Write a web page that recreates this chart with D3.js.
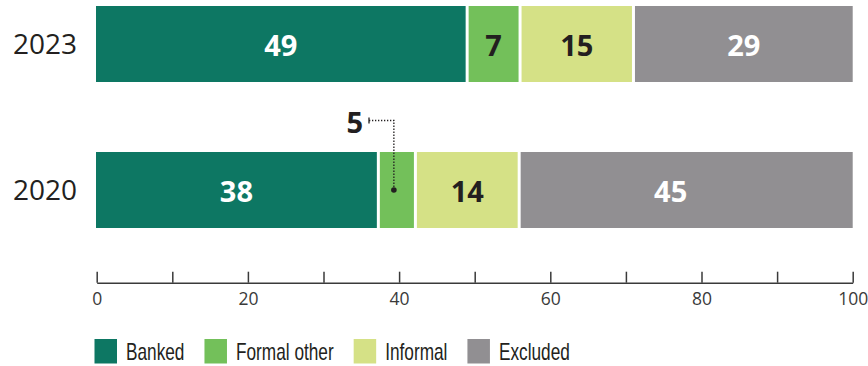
<!DOCTYPE html>
<html>
<head>
<meta charset="utf-8">
<script src="https://cdn.jsdelivr.net/npm/d3@7/dist/d3.min.js"></script>
<style>
  html, body { margin: 0; padding: 0; background: #ffffff; }
  svg { display: block; }
</style>
</head>
<body>
<svg id="chart" width="868" height="366"></svg>
<script>
// Share of adults by access to financial services (%)
const years = ["2023", "2020"];
const categories = ["Banked", "Formal other", "Informal", "Excluded"];
const banked = [49, 38];
const formalOther = [7, 5];
const informal = [15, 14];
const excluded = [29, 45];
const tickValues = [0, 10, 20, 30, 40, 50, 60, 70, 80, 90, 100];
const tickLabels = ["0", "", "20", "", "40", "", "60", "", "80", "", "100"];

const colors = ["#0d7763", "#73c05a", "#d5e186", "#918f92"];
const labelColors = ["#ffffff", "#231f20", "#231f20", "#ffffff"];
const ink = "#231f20";

const svg = d3.select("#chart");

const x = d3.scaleLinear().domain([0, 100]).range([96.7, 852.7]);
const y = d3.scaleBand().domain(years).range([6, 228]).paddingInner(70 / 146).paddingOuter(0);
const color = d3.scaleOrdinal().domain(categories).range(colors);

// Build rows; each row is scaled to its own total so segments fill 0–100
const series = [banked, formalOther, informal, excluded];
const rows = years.map((yr, i) => {
  const vals = series.map(s => s[i]);
  const total = d3.sum(vals);
  let acc = 0;
  return vals.map((v, j) => {
    const start = acc / total * 100;
    acc += v;
    const end = acc / total * 100;
    return { year: yr, key: categories[j], idx: j, value: v, start, end, last: j === vals.length - 1 };
  });
});
const segs = rows.flat();

const gap = 1.5;
const segX0 = d => d.start === 0 ? x(0) - 0.7 : x(d.start) + gap;
const segX1 = d => d.last ? x(100) : x(d.end) - gap;

const bars = svg.append("g");
bars.selectAll("rect")
  .data(segs)
  .join("rect")
  .attr("x", segX0)
  .attr("y", d => y(d.year))
  .attr("width", d => segX1(d) - segX0(d))
  .attr("height", y.bandwidth())
  .attr("fill", d => color(d.key));

// Value labels inside the segments (the small 2020 formal share is called out above)
const nudge = d => (d.year === "2020" && d.key === "Excluded") ? -16 : 0;
bars.selectAll("text")
  .data(segs.filter(d => !(d.year === "2020" && d.key === "Formal other")))
  .join("text")
  .attr("x", d => (segX0(d) + segX1(d)) / 2 + nudge(d))
  .attr("y", d => y(d.year) + y.bandwidth() / 2 + 11.5)
  .attr("text-anchor", "middle")
  .attr("font-family", "'Open Sans', 'Noto Sans', sans-serif")
  .attr("font-weight", 700)
  .attr("font-size", 29)
  .attr("fill", d => labelColors[d.idx])
  .text(d => d.value);

// Year labels
svg.append("g").selectAll("text")
  .data(years)
  .join("text")
  .attr("x", 77)
  .attr("y", d => y(d) + y.bandwidth() / 2 + 9.5)
  .attr("text-anchor", "end")
  .attr("font-family", "'Open Sans', 'Noto Sans', sans-serif")
  .attr("font-size", 28)
  .attr("fill", ink)
  .text(d => d);

// Callout for the 2020 formal-other share
const callout = segs.find(d => d.year === "2020" && d.key === "Formal other");
const cx = (segX0(callout) + segX1(callout)) / 2 - 3;
const cy = y(callout.year) + y.bandwidth() / 2;
const lineY = 120.5;
const lineX0 = 369;
const g = svg.append("g");
g.append("path")
  .attr("d", `M${lineX0},${lineY}H${cx}V${cy}`)
  .attr("fill", "none")
  .attr("stroke", ink)
  .attr("stroke-width", 1.3)
  .attr("stroke-dasharray", "1.3,1.7");
g.append("line")
  .attr("x1", lineX0).attr("x2", lineX0)
  .attr("y1", lineY - 3).attr("y2", lineY + 3)
  .attr("stroke", ink).attr("stroke-width", 1.3);
g.append("circle")
  .attr("cx", cx).attr("cy", cy).attr("r", 2.8)
  .attr("fill", ink);
g.append("text")
  .attr("x", 363)
  .attr("y", 133)
  .attr("text-anchor", "end")
  .attr("font-family", "'Open Sans', 'Noto Sans', sans-serif")
  .attr("font-weight", 700)
  .attr("font-size", 29)
  .attr("fill", ink)
  .text(callout.value);

// Axis with ticks pointing up
const axisY = 282.7;
const axis = d3.axisBottom(x)
  .tickValues(tickValues)
  .tickSizeInner(-11)
  .tickSizeOuter(0)
  .tickPadding(0)
  .tickFormat((d, i) => tickLabels[i]);
const ax = svg.append("g")
  .attr("transform", `translate(0,${axisY})`)
  .call(axis);
ax.select(".domain").attr("stroke", "#3a3a3a").attr("stroke-width", 1.5);
ax.selectAll(".tick line").attr("stroke", "#3a3a3a").attr("stroke-width", 1.5);
ax.selectAll(".tick text")
  .attr("y", 22.5)
  .attr("dy", 0)
  .attr("font-family", "'Open Sans', 'Noto Sans', sans-serif")
  .attr("font-size", 17.5)
  .attr("fill", "#3a3a3a");

// Legend (condensed sans labels)
const squeeze = 0.75;
const legend = svg.append("g").attr("transform", "translate(94.5,339)");
let lx = 0;
categories.forEach((c, i) => {
  const item = legend.append("g").attr("transform", `translate(${lx},0)`);
  item.append("rect").attr("width", 22.5).attr("height", 24.5).attr("fill", colors[i]);
  const t = item.append("text")
    .attr("transform", `translate(31.5,21) scale(${squeeze},1)`)
    .attr("font-family", "'Liberation Sans', Arial, sans-serif")
    .attr("font-size", 23)
    .attr("fill", ink)
    .text(c);
  lx += 31.5 + t.node().getComputedTextLength() * squeeze + 20;
});
</script>
</body>
</html>
